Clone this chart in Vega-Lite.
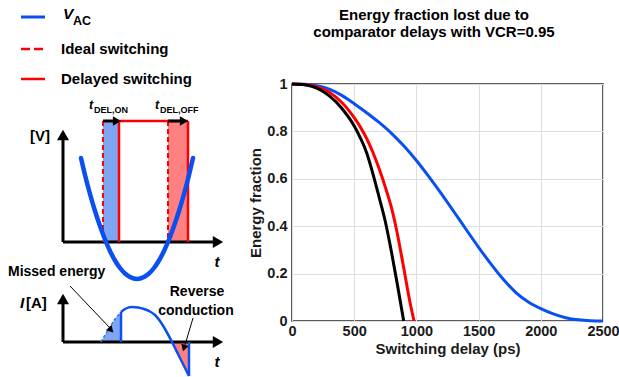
{
  "$schema": "https://vega.github.io/schema/vega-lite/v6.json",
  "padding": {"left": 0, "top": 7, "right": 0, "bottom": 0},
  "background": "white",
  "config": {"font": "Liberation Sans", "concat": {"spacing": 0}},
  "hconcat": [
    {
      "width": 248,
      "height": 292,
      "view": {"stroke": null},
      "encoding": {
        "x": {"field": "t", "type": "quantitative", "scale": {"domain": [0, 248], "nice": false, "zero": false}, "axis": null},
        "y": {"field": "v", "type": "quantitative", "scale": {"domain": [85, 377], "nice": false, "zero": false, "reverse": true}, "axis": null}
      },
      "layer": [
        {"data": {"values": [{"t": 103, "t2": 119, "v": 122, "v2": 243}]}, "mark": {"type": "rect", "color": "#7fa6f2"}, "encoding": {"x2": {"field": "t2"}, "y2": {"field": "v2"}}},
        {"data": {"values": [{"t": 168, "t2": 188, "v": 122, "v2": 243}]}, "mark": {"type": "rect", "color": "#ff8080"}, "encoding": {"x2": {"field": "t2"}, "y2": {"field": "v2"}}},
        {"data": {"values": [{"t": 101, "v": 343}, {"t": 105, "v": 336}, {"t": 110, "v": 328}, {"t": 115, "v": 320}, {"t": 121, "v": 313}]}, "mark": {"type": "area", "color": "#7fa6f2", "opacity": 1}, "encoding": {"y2": {"datum": 343}}},
        {"data": {"values": [{"t": 172, "v": 343}, {"t": 180, "v": 359}, {"t": 189, "v": 377}]}, "mark": {"type": "area", "color": "#ff8080", "opacity": 1}, "encoding": {"y2": {"datum": 343}}},
        {"data": {"values": [{"t": 63, "v": 243, "t2": 63, "v2": 138}, {"t": 63, "v": 243, "t2": 214, "v2": 243}, {"t": 63, "v": 343, "t2": 63, "v2": 302}, {"t": 63, "v": 343, "t2": 214, "v2": 343}]}, "mark": {"type": "rule", "color": "black", "strokeWidth": 3}, "encoding": {"x2": {"field": "t2"}, "y2": {"field": "v2"}}},
        {"data": {"values": [{"t": 63, "v": 136}, {"t": 63, "v": 300}]}, "mark": {"type": "point", "shape": "triangle-up", "filled": true, "color": "black", "opacity": 1, "size": 144}},
        {"data": {"values": [{"t": 218, "v": 243}, {"t": 218, "v": 343}]}, "mark": {"type": "point", "shape": "triangle-right", "filled": true, "color": "black", "opacity": 1, "size": 144}},
        {"data": {"values": [{"t": 103, "v": 122, "t2": 103, "v2": 243}, {"t": 168, "v": 122, "t2": 168, "v2": 243}]}, "mark": {"type": "rule", "color": "#ff0000", "strokeWidth": 2, "strokeDash": [5, 3]}, "encoding": {"x2": {"field": "t2"}, "y2": {"field": "v2"}}},
        {"data": {"values": [{"t": 119, "v": 122, "t2": 119, "v2": 243}, {"t": 188, "v": 122, "t2": 188, "v2": 243}, {"t": 119, "v": 122, "t2": 188, "v2": 122}]}, "mark": {"type": "rule", "color": "#ff0000", "strokeWidth": 2.5}, "encoding": {"x2": {"field": "t2"}, "y2": {"field": "v2"}}},
        {"data": {"values": [{"t": 81, "v": 159}, {"t": 85, "v": 176}, {"t": 90, "v": 195}, {"t": 95, "v": 212}, {"t": 100, "v": 227}, {"t": 105, "v": 240.5}, {"t": 110, "v": 252}, {"t": 115, "v": 261.5}, {"t": 120, "v": 269}, {"t": 125, "v": 274.5}, {"t": 130, "v": 278}, {"t": 137, "v": 280}, {"t": 144, "v": 278}, {"t": 149, "v": 274.5}, {"t": 154, "v": 269}, {"t": 159, "v": 261.5}, {"t": 164, "v": 252}, {"t": 169, "v": 240.5}, {"t": 174, "v": 227}, {"t": 179, "v": 212}, {"t": 184, "v": 195}, {"t": 189, "v": 176}, {"t": 193, "v": 159}]}, "mark": {"type": "line", "color": "#0a50f0", "strokeWidth": 4.5, "interpolate": "monotone", "strokeCap": "round"}},
        {"data": {"values": [{"t": 101, "v": 343}, {"t": 105, "v": 336}, {"t": 110, "v": 328}, {"t": 115, "v": 320}, {"t": 121, "v": 313}]}, "mark": {"type": "line", "color": "#3b73f0", "strokeWidth": 1.5, "strokeDash": [3, 2], "interpolate": "monotone"}},
        {"data": {"values": [{"t": 121, "v": 313}, {"t": 126, "v": 309.5}, {"t": 132, "v": 308}, {"t": 138, "v": 308.5}, {"t": 144, "v": 310}, {"t": 150, "v": 312.5}, {"t": 155, "v": 316}, {"t": 160, "v": 322}, {"t": 165, "v": 330}, {"t": 172, "v": 343}, {"t": 180, "v": 359}, {"t": 189, "v": 377}]}, "mark": {"type": "line", "color": "#0a50f0", "strokeWidth": 2.5, "interpolate": "monotone"}},
        {"data": {"values": [{"t": 121, "v": 313, "t2": 121, "v2": 343}, {"t": 189, "v": 343, "t2": 189, "v2": 377}]}, "mark": {"type": "rule", "color": "#0a50f0", "strokeWidth": 2.5}, "encoding": {"x2": {"field": "t2"}, "y2": {"field": "v2"}}},
        {"data": {"values": [{"t": 103, "v": 122, "t2": 113, "v2": 122}, {"t": 168, "v": 122, "t2": 180, "v2": 122}]}, "mark": {"type": "rule", "color": "black", "strokeWidth": 3}, "encoding": {"x2": {"field": "t2"}, "y2": {"field": "v2"}}},
        {"data": {"values": [{"t": 117, "v": 122}, {"t": 184, "v": 122}]}, "mark": {"type": "point", "shape": "triangle-right", "filled": true, "color": "black", "opacity": 1, "size": 90}},
        {"data": {"values": [{"t": 70, "v": 287, "t2": 110, "v2": 329}, {"t": 193, "v": 319, "t2": 185, "v2": 346}]}, "mark": {"type": "rule", "color": "black", "strokeWidth": 1}, "encoding": {"x2": {"field": "t2"}, "y2": {"field": "v2"}}},
        {"data": {"values": [{"t": 111, "v": 331}]}, "mark": {"type": "point", "shape": "triangle-up", "filled": true, "color": "black", "opacity": 1, "size": 60, "angle": 137}},
        {"data": {"values": [{"t": 184, "v": 349}]}, "mark": {"type": "point", "shape": "triangle-up", "filled": true, "color": "black", "opacity": 1, "size": 60, "angle": 197}},
        {"data": {"values": [{"t": 21, "v": 18, "t2": 45, "v2": 18}]}, "mark": {"type": "rule", "color": "#0a50f0", "strokeWidth": 3}, "encoding": {"x2": {"field": "t2"}, "y2": {"field": "v2"}}},
        {"data": {"values": [{"t": 21, "v": 50, "t2": 45, "v2": 50}]}, "mark": {"type": "rule", "color": "#ff0000", "strokeWidth": 2.5, "strokeDash": [9, 4]}, "encoding": {"x2": {"field": "t2"}, "y2": {"field": "v2"}}},
        {"data": {"values": [{"t": 21, "v": 80, "t2": 45, "v2": 80}]}, "mark": {"type": "rule", "color": "#ff0000", "strokeWidth": 2.5}, "encoding": {"x2": {"field": "t2"}, "y2": {"field": "v2"}}},
        {"data": {"values": [{"t": 61, "v": 50, "label": "Ideal switching"}, {"t": 61, "v": 80, "label": "Delayed switching"}, {"t": 30, "v": 137, "label": "[V]"}, {"t": 26, "v": 304, "label": "[A]"}]}, "mark": {"type": "text", "fontSize": 15, "fontWeight": "bold", "align": "left", "baseline": "middle", "color": "black"}, "encoding": {"text": {"field": "label"}}},
        {"data": {"values": [{"t": 8, "v": 273, "label": "Missed energy"}]}, "mark": {"type": "text", "fontSize": 14, "fontWeight": "bold", "align": "left", "baseline": "middle", "color": "black"}, "encoding": {"text": {"field": "label"}}},
        {"data": {"values": [{"t": 197, "v": 293, "label": "Reverse"}, {"t": 196, "v": 312, "label": "conduction"}]}, "mark": {"type": "text", "fontSize": 14, "fontWeight": "bold", "align": "center", "baseline": "middle", "color": "black"}, "encoding": {"text": {"field": "label"}}},
        {"data": {"values": [{"t": 63, "v": 15, "label": "V"}, {"t": 20, "v": 304, "label": "I"}]}, "mark": {"type": "text", "fontSize": 15.5, "fontWeight": "bold", "fontStyle": "italic", "align": "left", "baseline": "middle", "color": "black"}, "encoding": {"text": {"field": "label"}}},
        {"data": {"values": [{"t": 89, "v": 106, "label": "t"}, {"t": 155, "v": 106, "label": "t"}]}, "mark": {"type": "text", "fontSize": 12.5, "fontWeight": "bold", "fontStyle": "italic", "align": "left", "baseline": "middle", "color": "black"}, "encoding": {"text": {"field": "label"}}},
        {"data": {"values": [{"t": 217, "v": 263, "label": "t"}, {"t": 217, "v": 363, "label": "t"}]}, "mark": {"type": "text", "fontSize": 15, "fontWeight": "bold", "fontStyle": "italic", "align": "center", "baseline": "middle", "color": "black"}, "encoding": {"text": {"field": "label"}}},
        {"data": {"values": [{"t": 73, "v": 22, "label": "AC"}]}, "mark": {"type": "text", "fontSize": 12.5, "fontWeight": "bold", "align": "left", "baseline": "middle", "color": "black"}, "encoding": {"text": {"field": "label"}}},
        {"data": {"values": [{"t": 94, "v": 111, "label": "DEL,ON"}, {"t": 160, "v": 111, "label": "DEL,OFF"}]}, "mark": {"type": "text", "fontSize": 9, "fontWeight": "bold", "align": "left", "baseline": "middle", "color": "black"}, "encoding": {"text": {"field": "label"}}}
      ]
    },
    {
      "width": 311,
      "height": 237,
      "view": {"stroke": "#262626", "strokeWidth": 1.5},
      "title": {"text": ["Energy fraction lost due to", "comparator delays with VCR=0.95"], "fontSize": 15, "fontWeight": "bold", "lineHeight": 17, "offset": 36, "color": "black", "anchor": "middle", "frame": "bounds"},
      "encoding": {
        "x": {"field": "delay", "type": "quantitative", "scale": {"domain": [0, 2500], "nice": false, "zero": false},
              "axis": {"title": "Switching delay (ps)", "values": [0, 500, 1000, 1500, 2000, 2500], "format": "d", "labelFlush": false, "labelOverlap": false, "labelFontSize": 14.5, "labelFontWeight": "bold", "labelColor": "#1a1a1a", "titleFontSize": 15, "titleFontWeight": "bold", "titleColor": "#1a1a1a", "ticks": false, "domain": false, "grid": true, "gridColor": "#dedede", "labelPadding": 3, "titlePadding": 4}},
        "y": {"field": "fraction", "type": "quantitative", "scale": {"domain": [0, 1], "nice": false, "zero": false},
              "axis": {"title": "Energy fraction", "values": [0, 0.2, 0.4, 0.6, 0.8, 1], "format": "~g", "labelOverlap": false, "labelFontSize": 14.5, "labelFontWeight": "bold", "labelColor": "#1a1a1a", "titleFontSize": 15, "titleFontWeight": "bold", "titleColor": "#1a1a1a", "ticks": false, "domain": false, "grid": true, "gridColor": "#dedede", "labelPadding": 5, "titlePadding": 3, "minExtent": 0}}
      },
      "layer": [
        {
          "data": {"values": [
            {"delay": 0, "fraction": 1, "series": "t_DEL,ON"}, {"delay": 100, "fraction": 0.999, "series": "t_DEL,ON"}, {"delay": 200, "fraction": 0.993, "series": "t_DEL,ON"}, {"delay": 300, "fraction": 0.978, "series": "t_DEL,ON"}, {"delay": 400, "fraction": 0.952, "series": "t_DEL,ON"}, {"delay": 500, "fraction": 0.917, "series": "t_DEL,ON"}, {"delay": 600, "fraction": 0.879, "series": "t_DEL,ON"}, {"delay": 700, "fraction": 0.838, "series": "t_DEL,ON"}, {"delay": 800, "fraction": 0.792, "series": "t_DEL,ON"}, {"delay": 900, "fraction": 0.738, "series": "t_DEL,ON"}, {"delay": 1000, "fraction": 0.677, "series": "t_DEL,ON"}, {"delay": 1100, "fraction": 0.609, "series": "t_DEL,ON"}, {"delay": 1200, "fraction": 0.537, "series": "t_DEL,ON"}, {"delay": 1300, "fraction": 0.462, "series": "t_DEL,ON"}, {"delay": 1400, "fraction": 0.386, "series": "t_DEL,ON"}, {"delay": 1500, "fraction": 0.311, "series": "t_DEL,ON"}, {"delay": 1600, "fraction": 0.24, "series": "t_DEL,ON"}, {"delay": 1700, "fraction": 0.175, "series": "t_DEL,ON"}, {"delay": 1800, "fraction": 0.12, "series": "t_DEL,ON"}, {"delay": 1900, "fraction": 0.08, "series": "t_DEL,ON"}, {"delay": 2000, "fraction": 0.052, "series": "t_DEL,ON"}, {"delay": 2100, "fraction": 0.03, "series": "t_DEL,ON"}, {"delay": 2200, "fraction": 0.014, "series": "t_DEL,ON"}, {"delay": 2300, "fraction": 0.005, "series": "t_DEL,ON"}, {"delay": 2400, "fraction": 0.001, "series": "t_DEL,ON"}, {"delay": 2500, "fraction": 0, "series": "t_DEL,ON"},
            {"delay": 0, "fraction": 1, "series": "t_DEL,OFF"}, {"delay": 100, "fraction": 0.998, "series": "t_DEL,OFF"}, {"delay": 200, "fraction": 0.988, "series": "t_DEL,OFF"}, {"delay": 300, "fraction": 0.965, "series": "t_DEL,OFF"}, {"delay": 400, "fraction": 0.922, "series": "t_DEL,OFF"}, {"delay": 450, "fraction": 0.893, "series": "t_DEL,OFF"}, {"delay": 500, "fraction": 0.858, "series": "t_DEL,OFF"}, {"delay": 550, "fraction": 0.818, "series": "t_DEL,OFF"}, {"delay": 600, "fraction": 0.77, "series": "t_DEL,OFF"}, {"delay": 650, "fraction": 0.712, "series": "t_DEL,OFF"}, {"delay": 700, "fraction": 0.643, "series": "t_DEL,OFF"}, {"delay": 750, "fraction": 0.565, "series": "t_DEL,OFF"}, {"delay": 800, "fraction": 0.477, "series": "t_DEL,OFF"}, {"delay": 850, "fraction": 0.36, "series": "t_DEL,OFF"}, {"delay": 900, "fraction": 0.218, "series": "t_DEL,OFF"}, {"delay": 950, "fraction": 0.075, "series": "t_DEL,OFF"}, {"delay": 981, "fraction": 0, "series": "t_DEL,OFF"},
            {"delay": 0, "fraction": 1, "series": "t_DEL,combined"}, {"delay": 100, "fraction": 0.997, "series": "t_DEL,combined"}, {"delay": 200, "fraction": 0.983, "series": "t_DEL,combined"}, {"delay": 300, "fraction": 0.95, "series": "t_DEL,combined"}, {"delay": 400, "fraction": 0.898, "series": "t_DEL,combined"}, {"delay": 450, "fraction": 0.863, "series": "t_DEL,combined"}, {"delay": 500, "fraction": 0.823, "series": "t_DEL,combined"}, {"delay": 550, "fraction": 0.772, "series": "t_DEL,combined"}, {"delay": 600, "fraction": 0.71, "series": "t_DEL,combined"}, {"delay": 650, "fraction": 0.622, "series": "t_DEL,combined"}, {"delay": 700, "fraction": 0.523, "series": "t_DEL,combined"}, {"delay": 750, "fraction": 0.42, "series": "t_DEL,combined"}, {"delay": 800, "fraction": 0.29, "series": "t_DEL,combined"}, {"delay": 850, "fraction": 0.145, "series": "t_DEL,combined"}, {"delay": 898, "fraction": 0, "series": "t_DEL,combined"}
          ]},
          "mark": {"type": "line", "strokeWidth": 3, "interpolate": "monotone"},
          "encoding": {"color": {"field": "series", "type": "nominal", "scale": {"domain": ["t_DEL,ON", "t_DEL,OFF", "t_DEL,combined"], "range": ["#0a50f0", "#ff0000", "#000000"]}, "legend": null}}
        },
        {
          "data": {"values": [{"label": "DEL,ON"}]},
          "encoding": {"y": {"datum": 0.923}},
          "layer": [
            {"mark": {"type": "rule", "color": "#0a50f0", "strokeWidth": 3}, "encoding": {"x": {"datum": 1634}, "x2": {"datum": 1797}}},
            {"mark": {"type": "text", "text": "t", "fontSize": 14, "align": "left", "baseline": "middle", "dy": -1, "color": "black"}, "encoding": {"x": {"datum": 1797}}},
            {"mark": {"type": "text", "fontSize": 10.5, "fontWeight": "bold", "align": "left", "baseline": "middle", "dy": 7, "color": "black"}, "encoding": {"x": {"datum": 1825}, "text": {"field": "label"}}}
          ]
        },
        {
          "data": {"values": [{"label": "DEL,OFF"}]},
          "encoding": {"y": {"datum": 0.824}},
          "layer": [
            {"mark": {"type": "rule", "color": "#ff0000", "strokeWidth": 3}, "encoding": {"x": {"datum": 1634}, "x2": {"datum": 1797}}},
            {"mark": {"type": "text", "text": "t", "fontSize": 14, "align": "left", "baseline": "middle", "dy": -1, "color": "black"}, "encoding": {"x": {"datum": 1797}}},
            {"mark": {"type": "text", "fontSize": 10.5, "fontWeight": "bold", "align": "left", "baseline": "middle", "dy": 7, "color": "black"}, "encoding": {"x": {"datum": 1825}, "text": {"field": "label"}}}
          ]
        },
        {
          "data": {"values": [{"label": "DEL,combined"}]},
          "encoding": {"y": {"datum": 0.728}},
          "layer": [
            {"mark": {"type": "rule", "color": "#000000", "strokeWidth": 3}, "encoding": {"x": {"datum": 1634}, "x2": {"datum": 1797}}},
            {"mark": {"type": "text", "text": "t", "fontSize": 14, "align": "left", "baseline": "middle", "dy": -1, "color": "black"}, "encoding": {"x": {"datum": 1797}}},
            {"mark": {"type": "text", "fontSize": 10.5, "fontWeight": "bold", "align": "left", "baseline": "middle", "dy": 7, "color": "black"}, "encoding": {"x": {"datum": 1825}, "text": {"field": "label"}}}
          ]
        }
      ]
    }
  ]
}
